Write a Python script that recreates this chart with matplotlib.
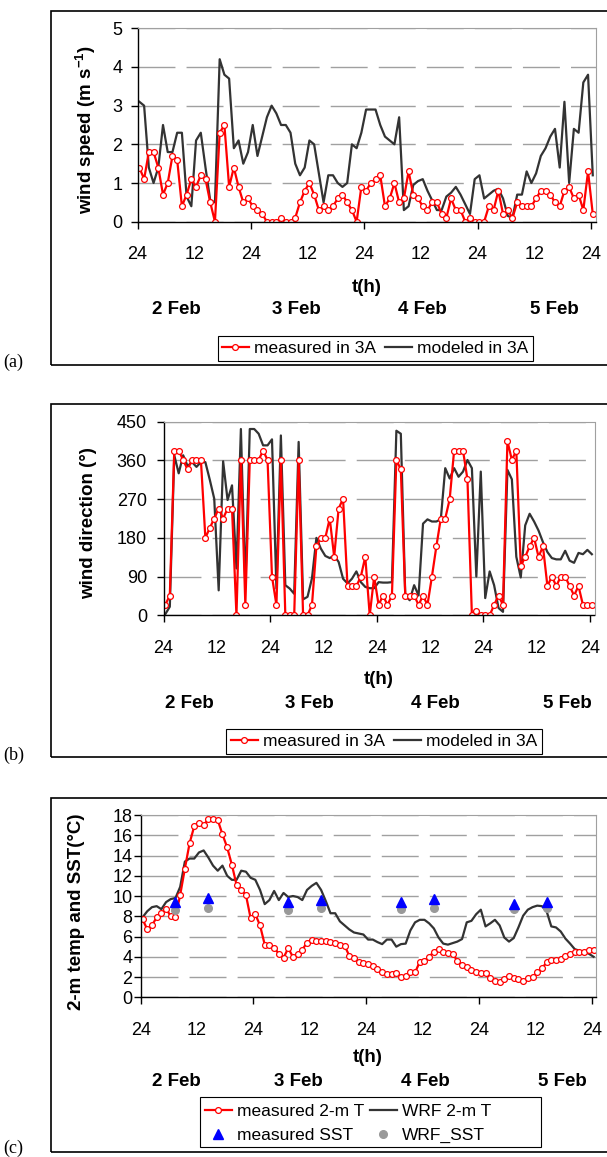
import numpy as np
import matplotlib.pyplot as plt
from matplotlib.lines import Line2D
from matplotlib.patches import Rectangle

plt.rcParams['font.family'] = ['Liberation Sans', 'DejaVu Sans']
plt.rcParams['mathtext.fontset'] = 'custom'
plt.rcParams['mathtext.rm'] = 'Liberation Sans'
plt.rcParams['mathtext.bf'] = 'Liberation Sans:bold'
plt.rcParams['lines.scale_dashes'] = False

# hourly values, from 24h on 1 Feb to 24h on 5 Feb
hours = np.arange(97)

speed_meas = [1.4, 1.1, 1.8, 1.8, 1.4, 0.7, 1.0, 1.7, 1.6, 0.4,
              0.7, 1.1, 0.9, 1.2, 1.1, 0.5, 0.0, 2.3, 2.5, 0.9,
              1.4, 0.9, 0.5, 0.6, 0.4, 0.3, 0.2, 0.0, 0.0, 0.0,
              0.1, 0.0, 0.0, 0.1, 0.5, 0.8, 1.0, 0.7, 0.3, 0.4,
              0.3, 0.4, 0.6, 0.7, 0.5, 0.3, 0.0, 0.9, 0.8, 1.0,
              1.1, 1.2, 0.4, 0.6, 1.0, 0.5, 0.6, 1.3, 0.7, 0.6,
              0.4, 0.3, 0.5, 0.5, 0.2, 0.1, 0.6, 0.3, 0.3, 0.0,
              0.1, 0.0, 0.0, 0.0, 0.4, 0.3, 0.8, 0.2, 0.3, 0.1,
              0.5, 0.4, 0.4, 0.4, 0.6, 0.8, 0.8, 0.7, 0.5, 0.4,
              0.8, 0.9, 0.6, 0.7, 0.3, 1.3, 0.2]
speed_wrf = [3.1, 3.0, 1.4, 1.0, 1.4, 2.5, 1.8, 1.8, 2.3, 2.3,
             0.65, 0.4, 2.1, 2.3, 1.4, 0.55, 0.5, 4.2, 3.8, 3.7,
             1.9, 2.1, 1.5, 1.8, 2.5, 1.7, 2.2, 2.7, 3.0, 2.8,
             2.5, 2.5, 2.3, 1.5, 1.2, 1.4, 2.1, 2.0, 1.25, 0.5,
             1.2, 1.2, 1.0, 0.9, 1.0, 2.0, 1.9, 2.3, 2.9, 2.9,
             2.9, 2.5, 2.2, 2.1, 2.0, 2.7, 0.3, 0.4, 0.95, 1.05,
             1.1, 0.8, 0.55, 0.3, 0.3, 0.65, 0.75, 0.9, 0.7, 0.45,
             0.2, 1.1, 1.2, 0.6, 0.7, 0.8, 0.85, 0.6, 0.15, 0.1,
             0.7, 0.7, 1.3, 1.0, 1.25, 1.7, 1.9, 2.2, 2.4, 1.4,
             3.1, 1.0, 2.4, 2.3, 3.6, 3.8, 1.2]

dir_meas = [25, 46, 383, 383, 361, 339, 361, 361, 361, 180,
            203, 225, 248, 225, 248, 248, 0, 361, 24, 361,
            361, 361, 383, 361, 90, 24, 361, 0, 0, 0,
            361, 0, 0, 24, 160, 180, 180, 225, 136, 248,
            271, 68, 68, 68, 90, 136, 0, 90, 24, 46,
            24, 46, 361, 339, 46, 46, 46, 24, 46, 24,
            90, 160, 225, 225, 270, 383, 383, 383, 316, 0,
            10, 0, 0, 0, 24, 46, 24, 405, 361, 383,
            114, 136, 160, 180, 136, 160, 68, 90, 68, 90,
            90, 68, 46, 68, 24, 24, 24]
dir_wrf = [3, 20, 372, 330, 372, 347, 356, 345, 356, 356,
           315, 271, 58, 358, 268, 302, 109, 433, 66, 433,
           433, 422, 395, 395, 409, 62, 418, 70, 62, 50,
           403, 37, 43, 86, 180, 155, 138, 133, 139, 124,
           85, 74, 85, 102, 77, 66, 63, 63, 77, 76,
           76, 77, 429, 422, 46, 35, 70, 46, 213, 223,
           218, 218, 223, 342, 318, 342, 322, 334, 361, 342,
           90, 334, 40, 102, 70, 17, 8, 338, 316, 136,
           88, 209, 236, 218, 197, 170, 147, 133, 130, 130,
           150, 127, 122, 145, 142, 152, 142]

temp_meas = [7.7, 6.7, 7.1, 7.9, 8.3, 8.75, 8.0, 7.9, 10.1, 12.7,
             15.2, 16.9, 17.2, 17.0, 17.6, 17.6, 17.5, 16.1, 14.8, 13.1,
             11.1, 10.6, 10.1, 7.8, 8.2, 7.1, 5.2, 5.2, 4.9, 4.3,
             3.9, 4.85, 4.0, 4.3, 4.7, 5.4, 5.7, 5.6, 5.6, 5.6,
             5.45, 5.35, 5.2, 5.1, 4.1, 3.9, 3.5, 3.4, 3.3, 3.1,
             2.8, 2.5, 2.3, 2.3, 2.4, 2.05, 2.15, 2.45, 2.45, 3.5,
             3.6, 4.0, 4.5, 4.8, 4.5, 4.35, 4.3, 3.6, 3.15, 2.95,
             2.7, 2.5, 2.4, 2.4, 1.9, 1.6, 1.55, 1.8, 2.1, 1.9,
             1.8, 1.6, 1.9, 2.05, 2.45, 2.85, 3.45, 3.7, 3.7, 3.75,
             4.1, 4.3, 4.5, 4.5, 4.5, 4.7, 4.7]
temp_wrf = [7.9, 8.5, 8.9, 9.0, 8.7, 9.4, 9.7, 9.8, 10.9, 13.4,
            13.7, 13.7, 14.3, 14.5, 13.8, 13.0, 12.5, 13.0, 12.0, 11.6,
            11.6, 12.5, 12.4, 11.8, 11.6, 10.6, 9.2, 9.6, 10.5, 9.6,
            10.3, 9.9, 10.0, 9.9, 9.6, 10.6, 11.0, 11.3, 10.6, 9.5,
            8.3, 8.3, 7.5, 7.1, 6.7, 6.4, 6.3, 6.2, 5.7, 5.7,
            5.45, 5.25, 5.7, 5.7, 5.0, 5.25, 5.3, 6.6, 7.4, 7.65,
            7.65, 7.3, 6.8, 5.9, 5.3, 5.2, 5.35, 5.5, 5.75, 7.4,
            7.55, 8.2, 8.65, 7.0, 7.3, 7.65, 7.1, 5.9, 5.5, 5.85,
            6.9, 8.05, 8.65, 8.9, 9.05, 9.0, 8.5, 7.0, 6.9, 6.5,
            5.8, 5.3, 4.75, 4.6, 4.5, 4.3, 4.0]

sst_hours = [7, 14, 31, 38, 55, 62, 79, 86]
sst_meas = [9.4, 9.8, 9.4, 9.6, 9.4, 9.7, 9.2, 9.4]
sst_wrf = [8.6, 8.8, 8.6, 8.8, 8.7, 8.8, 8.7, 8.8]

hour_labels = ['24', '12', '24', '12', '24', '12', '24', '12', '24']
day_labels = ['2 Feb', '3 Feb', '4 Feb', '5 Feb']

RED = '#ff0000'
DARK = '#333333'
GRID = '#a0a0a0'
LW = 1.6

W, H = 607, 1157
fig = plt.figure(figsize=(W / 100, H / 100), dpi=100)


def fx(x):
    return x / W


def fy(y):
    return 1 - y / H


def box(x0, y0, x1, y1, lw):
    fig.add_artist(Rectangle((fx(x0), fy(y1)), (x1 - x0) / W, (y1 - y0) / H,
                             transform=fig.transFigure, fill=False, ec='black', lw=lw))


def panel(pos, frame, ymax, ystep, ypad, ylabel, ylab_xy, th_xy, day_x, day_y, letter, letter_y):
    left, top, right, bottom = pos
    box(51, frame[0], 620, frame[1], 1.2)
    ax = fig.add_axes([fx(left), fy(bottom), (right - left) / W, (bottom - top) / H])
    ax.set_xlim(-0.4, 96.6)
    ax.set_ylim(0, ymax)
    ax.set_yticks(np.arange(0, ymax + ystep / 2, ystep))
    ax.set_xticks(np.arange(0, 97, 12) - 0.4, hour_labels)
    ax.set_xticks(np.arange(0, 97, 24) - 0.4, minor=True)
    ax.xaxis.remove_overlapping_locs = False
    ax.tick_params(axis='x', which='major', length=0, pad=17.5, labelsize=13)
    ax.tick_params(axis='x', which='minor', length=5, width=1, direction='out')
    ax.tick_params(axis='y', length=5, width=1, pad=ypad, labelsize=13)
    for s in ['top', 'right']:
        ax.spines[s].set_color(GRID)
    for s in ['left', 'bottom']:
        ax.spines[s].set_linewidth(1)
    ax.yaxis.grid(True, color=GRID, lw=1, linestyle=(0, (26.6, 8)))
    ax.set_axisbelow(True)

    fig.text(fx(ylab_xy[0]), fy(ylab_xy[1]), ylabel, rotation=90, ha='center', va='center',
             fontsize=13.5, fontweight='bold')
    fig.text(fx(th_xy[0]), fy(th_xy[1]), 't(h)', ha='center', va='center', fontsize=13.5,
             fontweight='bold')
    for x, lab in zip(day_x, day_labels):
        fig.text(fx(x), fy(day_y), lab, ha='center', va='center', fontsize=13.5, fontweight='bold')
    fig.text(fx(3), fy(letter_y), letter, ha='left', va='center', fontsize=13,
             family='Liberation Serif')
    return ax


def line_handle(color, marker=False):
    if marker:
        return Line2D([], [], color=color, lw=LW, marker='o', ms=4.2, mfc='white', mec=color, mew=0.9)
    return Line2D([], [], color=color, lw=LW)


def add_legend(handles, labels, frame, x0, cy, colsp=0.52, rowsp=0.3):
    box(*frame, 0.8)
    fig.legend(handles, labels, loc='center left', bbox_to_anchor=(fx(x0), fy(cy)), ncol=2,
               fontsize=12.5, frameon=False, handlelength=1.55, handletextpad=0.3,
               columnspacing=colsp, borderpad=0, labelspacing=rowsp, borderaxespad=0)


# (a) wind speed
ax = panel((137.5, 28.3, 595.6, 221.7), (11, 365), 5, 1, 6,
           r'wind speed (m s$^{\mathbf{-1}}$)', (85.5, 130), (366.5, 287),
           [176, 296, 422.5, 554.5], 310, '(a)', 362)
ax.plot(hours, speed_wrf, color=DARK, lw=LW)
ax.plot(hours, speed_meas, color=RED, lw=LW, marker='o', ms=4.2, mfc='white', mec=RED, mew=0.9)
add_legend([line_handle(RED, True), line_handle(DARK)], ['measured in 3A', 'modeled in 3A'],
           (217.5, 336, 532.7, 361), 222, 348.5)

# (b) wind direction
ax = panel((163.6, 421.7, 594.5, 615.3), (404, 757), 450, 90, 7,
           'wind direction (°)', (89, 523), (379, 680),
           [189, 309, 435.6, 567], 703, '(b)', 755)
ax.plot(hours, dir_wrf, color=DARK, lw=LW)
ax.plot(hours, dir_meas, color=RED, lw=LW, marker='o', ms=4.2, mfc='white', mec=RED, mew=0.9)
add_legend([line_handle(RED, True), line_handle(DARK)], ['measured in 3A', 'modeled in 3A'],
           (226, 729, 542, 754), 231, 741.5)

# (c) temperature and SST
ax = panel((140.7, 815, 596.4, 997.3), (798, 1152), 18, 2, 1,
           '2-m temp and SST(°C)', (76.4, 912), (368, 1058),
           [176, 298, 425.5, 562], 1082, '(c)', 1148)
ax.plot(hours, temp_wrf, color=DARK, lw=LW)
ax.plot(hours, temp_meas, color=RED, lw=LW, marker='o', ms=4.2, mfc='white', mec=RED, mew=0.9)
ax.plot(sst_hours, sst_wrf, ls='none', marker='o', ms=5.5, color='#999999')
ax.plot(sst_hours, sst_meas, ls='none', marker='^', ms=6.5, color='#0000ff')
add_legend([line_handle(RED, True),
            Line2D([], [], ls='none', marker='^', ms=6.5, color='#0000ff'),
            line_handle(DARK),
            Line2D([], [], ls='none', marker='o', ms=5.5, color='#999999')],
           ['measured 2-m T', 'measured SST', 'WRF 2-m T', 'WRF_SST'],
           (200, 1097, 541, 1147), 205, 1123.5, colsp=0.32, rowsp=0.5)

fig.savefig('out.png', dpi=100)
